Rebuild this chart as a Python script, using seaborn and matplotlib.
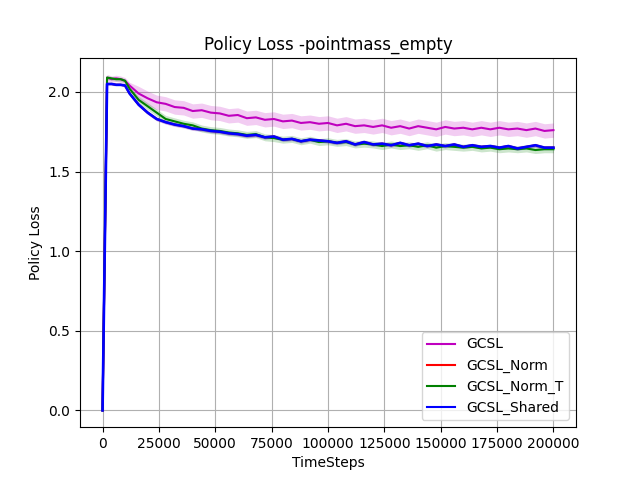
import matplotlib
matplotlib.use("Agg")
import matplotlib.pyplot as plt
import seaborn as sns
import pandas as pd
import numpy as np

timesteps = [0, 2000, 4000, 6000, 8000, 10000, 12000,
             16000, 20000, 24000, 28000, 32000, 36000, 40000, 44000, 48000,
             52000, 56000, 60000, 64000, 68000, 72000, 76000, 80000, 84000,
             88000, 92000, 96000, 100000, 104000, 108000, 112000, 116000,
             120000, 124000, 128000, 132000, 136000, 140000, 144000, 148000,
             152000, 156000, 160000, 164000, 168000, 172000, 176000, 180000,
             184000, 188000, 192000, 196000, 200000]

gcsl = [0.0, 2.09, 2.08, 2.085, 2.08, 2.07, 2.04,
        1.99, 1.96, 1.935, 1.925, 1.905, 1.90, 1.88, 1.885, 1.87,
        1.865, 1.85, 1.855, 1.835, 1.84, 1.825, 1.83, 1.815, 1.82,
        1.805, 1.81, 1.80, 1.805, 1.79, 1.80, 1.785, 1.79,
        1.78, 1.79, 1.775, 1.785, 1.77, 1.785, 1.775, 1.765,
        1.78, 1.77, 1.775, 1.765, 1.775, 1.765, 1.775, 1.765,
        1.77, 1.76, 1.77, 1.755, 1.76]

gcsl_norm_t = [0.0, 2.09, 2.085, 2.08, 2.08, 2.07, 2.02,
               1.95, 1.91, 1.87, 1.83, 1.815, 1.80, 1.79, 1.77, 1.76,
               1.755, 1.745, 1.74, 1.73, 1.735, 1.715, 1.71, 1.70, 1.705,
               1.69, 1.70, 1.685, 1.69, 1.68, 1.685, 1.67, 1.675,
               1.67, 1.66, 1.67, 1.66, 1.665, 1.655, 1.665, 1.65,
               1.66, 1.655, 1.65, 1.655, 1.645, 1.65, 1.64, 1.645,
               1.64, 1.645, 1.635, 1.64, 1.64]

gcsl_shared = [0.0, 2.05, 2.05, 2.045, 2.045, 2.04, 1.99,
               1.92, 1.87, 1.83, 1.81, 1.795, 1.785, 1.77, 1.765, 1.755,
               1.75, 1.74, 1.735, 1.725, 1.73, 1.715, 1.72, 1.70, 1.705,
               1.69, 1.70, 1.695, 1.69, 1.68, 1.69, 1.67, 1.685,
               1.67, 1.675, 1.665, 1.68, 1.665, 1.675, 1.66, 1.67,
               1.66, 1.67, 1.655, 1.665, 1.655, 1.66, 1.65, 1.66,
               1.645, 1.655, 1.665, 1.65, 1.65]

gcsl_norm = list(gcsl_shared)

series_names = ["GCSL", "GCSL_Norm", "GCSL_Norm_T", "GCSL_Shared"]
series_values = [gcsl, gcsl_norm, gcsl_norm_t, gcsl_shared]
band_halfwidth = [0.045, 0.01, 0.022, 0.012]
band_early = [0.02, 0.005, 0.012, 0.008]
colors = ["#bf00bf", "red", "green", "blue"]
widths = [1.5, 1.5, 1.5, 1.9]

frames = []
for name, vals in zip(series_names, series_values):
    frames.append(pd.DataFrame({"TimeSteps": timesteps, "Policy Loss": vals, "Method": name}))
df = pd.concat(frames, ignore_index=True)

fig, ax = plt.subplots(figsize=(6.4, 4.8), dpi=100)
ax.grid(True, color="#b0b0b0", linewidth=0.8)
ax.set_axisbelow(True)

t = np.array(timesteps)
for name, vals, hw, he, c, lw in zip(series_names, series_values, band_halfwidth,
                                       band_early, colors, widths):
    v = np.array(vals)
    h = np.where(t < 1000, 0.0, np.where(t <= 12000, he, hw))
    ax.fill_between(timesteps, v - h, v + h, color=c, alpha=0.2, linewidth=0)
    sns.lineplot(data=df[df["Method"] == name], x="TimeSteps", y="Policy Loss",
                 color=c, linewidth=lw, label=name, ax=ax, errorbar=None)

ax.set_title("Policy Loss -pointmass_empty")
ax.set_xlabel("TimeSteps")
ax.set_ylabel("Policy Loss")
leg = ax.legend(loc="lower right")
for line in leg.get_lines():
    line.set_linewidth(1.5)
fig.savefig("out.png", dpi=100)
